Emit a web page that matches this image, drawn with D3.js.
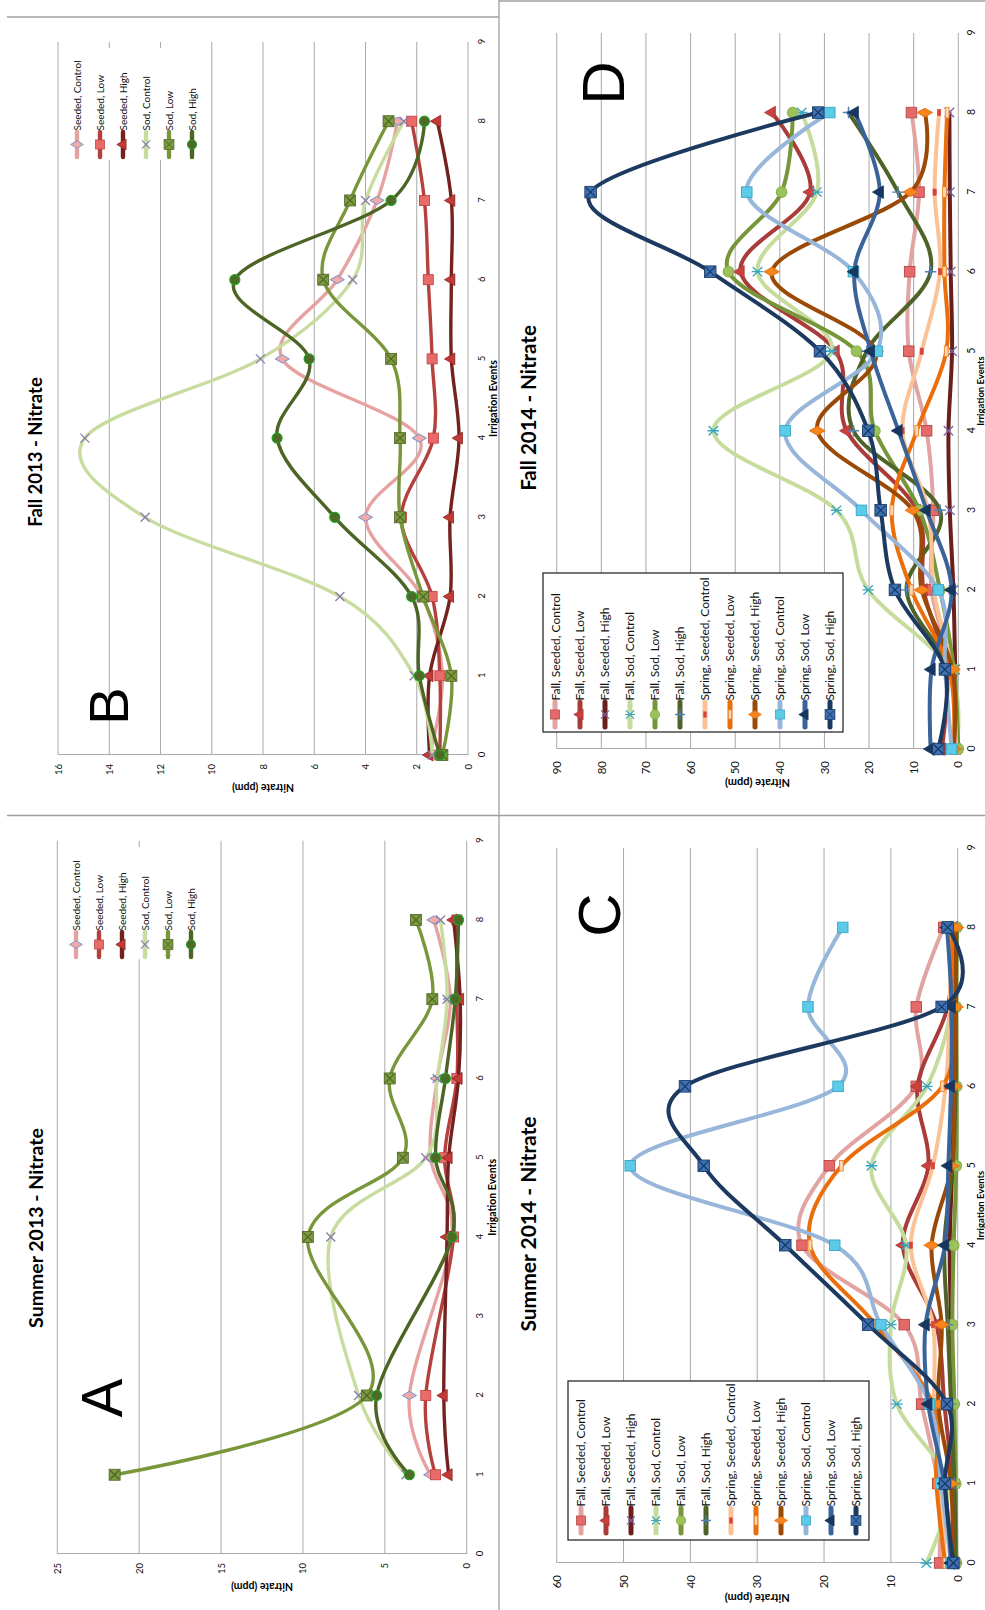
<!DOCTYPE html>
<html>
<head>
<meta charset="utf-8">
<script src="https://cdn.jsdelivr.net/npm/d3@7"></script>
<style>
  body { margin: 0; background: #fff; }
  svg { display: block; }
</style>
</head>
<body>
<svg id="fig" width="985" height="1610"></svg>
<script>
// ---------- data ----------
const events = [0, 1, 2, 3, 4, 5, 6, 7, 8];
const eventTicks = [0, 1, 2, 3, 4, 5, 6, 7, 8, 9];

const namesShort = ["Seeded, Control", "Seeded, Low", "Seeded, High", "Sod, Control", "Sod, Low", "Sod, High"];
const namesLong = ["Fall, Seeded, Control", "Fall, Seeded, Low", "Fall, Seeded, High",
  "Fall, Sod, Control", "Fall, Sod, Low", "Fall, Sod, High",
  "Spring, Seeded, Control", "Spring, Seeded, Low", "Spring, Seeded, High",
  "Spring, Sod, Control", "Spring, Sod, Low", "Spring, Sod, High"];

// Summer 2013 (no samples at events 0 and 3)
const sum13SeededControl = [null, 2.2, 3.5, null, 0.9, 2.2, 1.8, 1.0, 2.0];
const sum13SeededLow     = [null, 1.9, 2.5, null, 0.8, 1.35, 0.6, 0.6, 0.6];
const sum13SeededHigh    = [null, 1.1, 1.4, null, 1.2, 1.1, 0.5, 0.4, 0.8];
const sum13SodControl    = [null, 3.7, 6.6, null, 8.3, 2.5, 1.8, 1.2, 1.6];
const sum13SodLow        = [null, 21.5, 6.1, null, 9.7, 3.9, 4.7, 2.1, 3.1];
const sum13SodHigh       = [null, 3.5, 5.5, null, 0.9, 1.9, 1.3, 0.7, 0.5];
const sum13Ticks = [0, 5, 10, 15, 20, 25];

// Fall 2013
const fall13SeededControl = [1.5, 1.0, 1.8, 4.0, 1.9, 7.25, 5.1, 3.55, 2.75];
const fall13SeededLow     = [1.1, 1.1, 1.4, 2.6, 1.35, 1.4, 1.55, 1.7, 2.2];
const fall13SeededHigh    = [1.5, 1.5, 0.7, 0.7, 0.35, 0.65, 0.65, 0.65, 1.2];
const fall13SodControl    = [1.4, 2.1, 5.0, 12.6, 14.95, 8.1, 4.5, 4.0, 2.5];
const fall13SodLow        = [1.0, 0.65, 1.75, 2.65, 2.65, 3.0, 5.65, 4.6, 3.1];
const fall13SodHigh       = [1.1, 1.9, 2.2, 5.2, 7.45, 6.2, 9.1, 3.0, 1.7];
const fall13Ticks = [0, 2, 4, 6, 8, 10, 12, 14, 16];

// Summer 2014
const sum14FallSeededControl   = [2.7, 3.0, 5.4, 8.0, 23.3, 19.2, 6.2, 6.2, 2.1];
const sum14FallSeededLow       = [0.5, 0.8, 2.0, 3.2, 8.2, 4.4, 6.0, 1.5, 0.5];
const sum14FallSeededHigh      = [0.3, 0.4, 0.8, 1.0, 1.2, 0.8, 0.5, 0.4, 0.3];
const sum14FallSodControl      = [4.7, 1.5, 9.1, 10.0, 7.7, 12.9, 4.6, 0.9, 0.5];
const sum14FallSodLow          = [0.2, 0.3, 0.5, 0.8, 0.6, 0.2, 0.15, 0.2, 0.1];
const sum14FallSodHigh         = [0.3, 0.5, 1.0, 1.5, 2.0, 0.8, 0.3, 0.3, 0.2];
const sum14SpringSeededControl = [1.9, 2.5, 3.5, 3.7, 7.0, 3.7, 1.8, 1.2, 1.0];
const sum14SpringSeededLow     = [1.9, 3.2, 3.7, 12.3, 22.1, 17.4, 2.3, 1.0, 0.8];
const sum14SpringSeededHigh    = [0.8, 1.0, 2.9, 2.4, 3.9, 0.9, 0.5, 0.3, 0.25];
const sum14SpringSodControl    = [1.0, 2.5, 4.2, 11.5, 18.4, 49.0, 17.9, 22.4, 17.2];
const sum14SpringSodLow        = [1.0, 2.0, 4.4, 4.8, 1.9, 1.4, 1.0, 0.9, 1.6];
const sum14SpringSodHigh       = [0.65, 1.9, 1.6, 13.4, 25.8, 38.0, 40.8, 2.4, 1.5];
const sum14Ticks = [0, 10, 20, 30, 40, 50, 60];

// Fall 2014
const fall14FallSeededControl   = [0.7, 1.5, 6.0, 5.6, 7.1, 11.1, 10.9, 8.8, 10.5];
const fall14FallSeededLow       = [3.7, 2.6, 7.8, 9.3, 25.0, 27.5, 48.8, 33.2, 41.8];
const fall14FallSeededHigh      = [0.5, 0.7, 1.1, 1.9, 2.2, 1.4, 1.7, 1.9, 2.0];
const fall14FallSodControl      = [0.4, 2.0, 20.2, 27.3, 54.9, 28.4, 45.0, 31.7, 35.1];
const fall14FallSodLow          = [0.0, 1.0, 4.1, 8.7, 18.7, 22.8, 51.5, 39.6, 37.1];
const fall14FallSodHigh         = [0.5, 2.0, 11.6, 4.1, 23.5, 20.5, 6.2, 13.5, 24.6];
const fall14SpringSeededControl = [0.5, 1.5, 5.5, 6.7, 12.5, 8.2, 4.1, 5.3, 4.3];
const fall14SpringSeededLow     = [1.0, 2.0, 10.5, 14.9, 9.3, 2.7, 3.1, 3.1, 2.5];
const fall14SpringSeededHigh    = [1.0, 1.3, 8.2, 10.2, 31.6, 18.5, 41.8, 10.7, 7.5];
const fall14SpringSodControl    = [1.5, 3.0, 4.5, 21.7, 38.8, 18.2, 23.5, 47.4, 28.8];
const fall14SpringSodLow        = [6.2, 6.0, 1.5, 7.1, 13.4, 19.6, 23.3, 17.6, 23.2];
const fall14SpringSodHigh       = [4.5, 3.0, 14.2, 17.4, 20.2, 31.0, 55.6, 82.4, 31.4];
const fall14Ticks = [0, 10, 20, 30, 40, 50, 60, 70, 80, 90];

// ---------- styles ----------
const FONT = "Lato, 'Open Sans', 'DejaVu Sans', sans-serif";
const GRID = "#a9a9a9";

const stylesShort = [
  { line: "#e6a2a0", marker: "diamond",  fill: "#f2aaa8", stroke: "#7393cf" },
  { line: "#b5413e", marker: "square",   fill: "#e86b69", stroke: "#c24846" },
  { line: "#74211f", marker: "triangle", fill: "#c23a36", stroke: "#8e2523" },
  { line: "#c7dc9e", marker: "x",        fill: "none",    stroke: "#8a7cb0" },
  { line: "#79973a", marker: "squareX",  fill: "#7c9b3d", stroke: "#4f6228" },
  { line: "#4c6424", marker: "circle",   fill: "#4f6a28", stroke: "#22a022" }
];

const stylesLong = [
  { line: "#e1a4a2", marker: "square",   fill: "#e36a68", stroke: "#b94a48" },
  { line: "#a93b39", marker: "triangle", fill: "#c9403d", stroke: "#a93b39" },
  { line: "#6a1f1d", marker: "x",        fill: "none",    stroke: "#7c64a8" },
  { line: "#c6dc9c", marker: "asterisk", fill: "none",    stroke: "#3aa5c0" },
  { line: "#77963a", marker: "circle",   fill: "#9cc25b", stroke: "#8db24d" },
  { line: "#4f6228", marker: "plus",     fill: "none",    stroke: "#4f81bd" },
  { line: "#fbc296", marker: "tinyRect", fill: "#d9413f", stroke: "#d9413f" },
  { line: "#ea6f0c", marker: "barRect",  fill: "#fdd6b4", stroke: "#f08a30" },
  { line: "#9a4a06", marker: "diamond",  fill: "#f7861f", stroke: "#e87511" },
  { line: "#97b6da", marker: "square",   fill: "#5ccbe8", stroke: "#38a8c8" },
  { line: "#3a6399", marker: "triangle", fill: "#17375e", stroke: "#17375e" },
  { line: "#1c3a60", marker: "squareX",  fill: "#3e70b4", stroke: "#17375e" }
];

// ---------- panels (each drawn in landscape space and turned a quarter) ----------
const panels = [
  { // Fall 2013
    title: "Fall 2013 - Nitrate", letter: "B",
    tx: 58, ty: 755, W: 713, H: 410, vmax: 16, ticks: fall13Ticks,
    series: [fall13SeededControl, fall13SeededLow, fall13SeededHigh, fall13SodControl, fall13SodLow, fall13SodHigh],
    names: namesShort, styles: stylesShort,
    vPad: 9, vFont: 9.5, ePad: 10, eFont: 9.5, axFont: 10.5, evFont: 10.5, nitrateX: -33, evTitleY: 25,
    titlePos: [303, -23], titleFont: 18.5, letterPos: [49, 50], letterFont: 56,
    lw: 3.4, mk: 1,
    legend: { box: [595, 12, 112, 136], boxStroke: "none", x0: 598, y0: 19, dy: 23, font: 10, len: 25 }
  },
  { // Summer 2013
    title: "Summer 2013 - Nitrate", letter: "A",
    tx: 57.3, ty: 1554, W: 713.3, H: 409.4, vmax: 25, ticks: sum13Ticks,
    series: [sum13SeededControl, sum13SeededLow, sum13SeededHigh, sum13SodControl, sum13SodLow, sum13SodHigh],
    names: namesShort, styles: stylesShort,
    vPad: 9, vFont: 9.5, ePad: 10, eFont: 9.5, axFont: 10.5, evFont: 10.5, nitrateX: -33, evTitleY: 25,
    titlePos: [326, -22.3], titleFont: 19.5, letterPos: [156, 43.7], letterFont: 58,
    lw: 3.4, mk: 1,
    legend: { box: [595, 11, 112, 137], boxStroke: "none", x0: 597, y0: 18.7, dy: 23, font: 10, len: 25 }
  },
  { // Fall 2014
    title: "Fall 2014 - Nitrate", letter: "D",
    tx: 556.7, ty: 749, W: 716, H: 401.6, vmax: 90, ticks: fall14Ticks,
    series: [fall14FallSeededControl, fall14FallSeededLow, fall14FallSeededHigh, fall14FallSodControl,
      fall14FallSodLow, fall14FallSodHigh, fall14SpringSeededControl, fall14SpringSeededLow,
      fall14SpringSeededHigh, fall14SpringSodControl, fall14SpringSodLow, fall14SpringSodHigh],
    names: namesLong, styles: stylesLong,
    vPad: 12, vFont: 11.5, ePad: 9.5, eFont: 10.5, axFont: 11, evFont: 9.5, nitrateX: -34, evTitleY: 21.8,
    titlePos: [341, -28.7], titleFont: 20.5, letterPos: [666, 45.3], letterFont: 60,
    lw: 4, mk: 1.05,
    legend: { box: [17, -13.7, 159, 300], boxStroke: "#1a1a1a", x0: 22, y0: -1.7, dy: 25, font: 12, len: 25 }
  },
  { // Summer 2014
    title: "Summer 2014 - Nitrate", letter: "C",
    tx: 556.7, ty: 1563, W: 715, H: 401, vmax: 60, ticks: sum14Ticks,
    series: [sum14FallSeededControl, sum14FallSeededLow, sum14FallSeededHigh, sum14FallSodControl,
      sum14FallSodLow, sum14FallSodHigh, sum14SpringSeededControl, sum14SpringSeededLow,
      sum14SpringSeededHigh, sum14SpringSodControl, sum14SpringSodLow, sum14SpringSodHigh],
    names: namesLong, styles: stylesLong,
    vPad: 12, vFont: 11.5, ePad: 9.5, eFont: 10.5, axFont: 11, evFont: 9.5, nitrateX: -35, evTitleY: 22.4,
    titlePos: [339, -29.7], titleFont: 21, letterPos: [648, 41.3], letterFont: 60,
    lw: 4, mk: 1.05,
    legend: { box: [23, 11.3, 159, 301], boxStroke: "#1a1a1a", x0: 30, y0: 24.3, dy: 25, font: 12, len: 25 }
  }
];

const svg = d3.select("#fig");

// frame lines between the four charts
const frame = svg.append("g").attr("stroke", "#a0a0a0").attr("stroke-width", 1.3).attr("fill", "none");
frame.append("line").attr("x1", 7).attr("x2", 499).attr("y1", 17).attr("y2", 17);
frame.append("line").attr("x1", 499).attr("x2", 985).attr("y1", 1).attr("y2", 1);
frame.append("line").attr("x1", 7).attr("x2", 985).attr("y1", 815.5).attr("y2", 815.5);
frame.append("line").attr("x1", 499).attr("x2", 499).attr("y1", 0).attr("y2", 1610);

function addMarker(parent, x, y, type, fill, stroke, k) {
  const m = parent.append("g").attr("transform", `translate(${x},${y}) scale(${k})`);
  switch (type) {
    case "diamond":
      m.append("path").attr("d", d3.symbol(d3.symbolDiamond, 58)())
        .attr("fill", fill).attr("stroke", stroke).attr("stroke-width", 1);
      break;
    case "square":
      m.append("rect").attr("x", -5).attr("y", -5).attr("width", 10).attr("height", 10)
        .attr("fill", fill).attr("stroke", stroke).attr("stroke-width", 0.9);
      break;
    case "triangle":
      m.append("path").attr("d", d3.symbol(d3.symbolTriangle, 62)())
        .attr("fill", fill).attr("stroke", stroke).attr("stroke-width", 0.8);
      break;
    case "x":
      m.append("path").attr("d", "M-4.5,-4.5L4.5,4.5M-4.5,4.5L4.5,-4.5")
        .attr("fill", "none").attr("stroke", stroke).attr("stroke-width", 1.3);
      break;
    case "squareX":
      m.append("rect").attr("x", -5.5).attr("y", -5.5).attr("width", 11).attr("height", 11)
        .attr("fill", fill).attr("stroke", stroke).attr("stroke-width", 0.8);
      m.append("path").attr("d", "M-4.5,-4.5L4.5,4.5M-4.5,4.5L4.5,-4.5")
        .attr("fill", "none").attr("stroke", stroke).attr("stroke-width", 1.1);
      break;
    case "circle":
      m.append("circle").attr("r", 5).attr("fill", fill).attr("stroke", stroke).attr("stroke-width", 1.2);
      break;
    case "asterisk":
      m.append("path").attr("d", "M-4.5,-4.5L4.5,4.5M-4.5,4.5L4.5,-4.5M0,-5.5V5.5")
        .attr("fill", "none").attr("stroke", stroke).attr("stroke-width", 1.3);
      break;
    case "plus":
      m.append("path").attr("d", "M-5.5,0H5.5M0,-5.5V5.5")
        .attr("fill", "none").attr("stroke", stroke).attr("stroke-width", 1.4);
      break;
    case "tinyRect":
      m.append("rect").attr("x", -3).attr("y", -1.6).attr("width", 6).attr("height", 3.2)
        .attr("fill", fill).attr("stroke", stroke).attr("stroke-width", 0.5);
      break;
    case "barRect":
      m.append("rect").attr("x", -5).attr("y", -1.8).attr("width", 10).attr("height", 3.6)
        .attr("fill", fill).attr("stroke", stroke).attr("stroke-width", 0.9);
      break;
  }
}

function drawPanel(p) {
  const g = svg.append("g").attr("transform", `translate(${p.tx},${p.ty}) rotate(-90)`);
  const x = d3.scaleLinear().domain([0, 9]).range([0, p.W]);
  const y = d3.scaleLinear().domain([0, p.vmax]).range([p.H, 0]);

  // value gridlines
  g.append("g").selectAll("line").data(p.ticks).join("line")
    .attr("x1", 0).attr("x2", p.W)
    .attr("y1", d => y(d)).attr("y2", d => y(d))
    .attr("stroke", GRID).attr("stroke-width", 1);

  // value axis
  const yAxis = g.append("g")
    .call(d3.axisLeft(y).tickValues(p.ticks).tickSize(0).tickSizeOuter(0).tickPadding(p.vPad));
  yAxis.select(".domain").attr("stroke", GRID);
  yAxis.selectAll("text").attr("font-family", FONT).attr("font-size", p.vFont).attr("fill", "#111");

  // irrigation event axis
  const xAxis = g.append("g").attr("transform", `translate(0,${p.H})`)
    .call(d3.axisBottom(x).tickValues(eventTicks).tickSize(0).tickSizeOuter(0).tickPadding(p.ePad));
  xAxis.select(".domain").remove();
  xAxis.selectAll("text").attr("font-family", FONT).attr("font-size", p.eFont).attr("fill", "#111");

  // axis titles
  g.append("text")
    .attr("x", p.W / 2).attr("y", p.H + p.evTitleY)
    .attr("text-anchor", "middle").attr("dominant-baseline", "central")
    .attr("font-family", FONT).attr("font-weight", 700).attr("font-size", p.evFont)
    .text("Irrigation Events");
  g.append("text")
    .attr("transform", `translate(${p.nitrateX},${p.H / 2}) rotate(-90)`)
    .attr("text-anchor", "middle").attr("dominant-baseline", "central")
    .attr("font-family", FONT).attr("font-weight", 700).attr("font-size", p.axFont)
    .text("Nitrate  (ppm)");

  // chart title
  g.append("text")
    .attr("x", p.titlePos[0]).attr("y", p.titlePos[1])
    .attr("text-anchor", "middle").attr("dominant-baseline", "central")
    .attr("font-family", FONT).attr("font-weight", 700).attr("font-size", p.titleFont)
    .text(p.title);

  // panel letter
  g.append("text")
    .attr("x", p.letterPos[0]).attr("y", p.letterPos[1]).attr("dy", "0.36em")
    .attr("text-anchor", "middle")
    .attr("font-family", "'Liberation Sans', Arial, sans-serif").attr("font-size", p.letterFont)
    .text(p.letter);

  // series: smoothed lines with markers
  const line = d3.line()
    .x(d => x(d.e)).y(d => y(d.v))
    .curve(d3.curveCatmullRom.alpha(0));
  p.series.forEach((arr, i) => {
    const st = p.styles[i];
    const pts = events.map((e, j) => ({ e, v: arr[j] })).filter(d => d.v != null);
    const sg = g.append("g");
    sg.append("path").attr("d", line(pts))
      .attr("fill", "none").attr("stroke", st.line).attr("stroke-width", p.lw)
      .attr("stroke-linejoin", "round").attr("stroke-linecap", "round");
    pts.forEach(d => addMarker(sg, x(d.e), y(d.v), st.marker, st.fill, st.stroke, p.mk));
  });

  // legend
  const L = p.legend;
  const lg = g.append("g");
  lg.append("rect")
    .attr("x", L.box[0]).attr("y", L.box[1]).attr("width", L.box[2]).attr("height", L.box[3])
    .attr("fill", "#fff").attr("stroke", L.boxStroke).attr("stroke-width", 1.2);
  p.names.forEach((name, i) => {
    const st = p.styles[i];
    const yy = L.y0 + L.dy * i;
    lg.append("line")
      .attr("x1", L.x0).attr("x2", L.x0 + L.len).attr("y1", yy).attr("y2", yy)
      .attr("stroke", st.line).attr("stroke-width", p.lw + 1).attr("stroke-linecap", "round");
    addMarker(lg, L.x0 + L.len / 2, yy, st.marker, st.fill, st.stroke, 0.9);
    lg.append("text")
      .attr("x", L.x0 + L.len + 1.5).attr("y", yy)
      .attr("dominant-baseline", "central")
      .attr("font-family", FONT).attr("font-size", L.font).attr("fill", "#111")
      .text(name);
  });
}

panels.forEach(drawPanel);
</script>
</body>
</html>
